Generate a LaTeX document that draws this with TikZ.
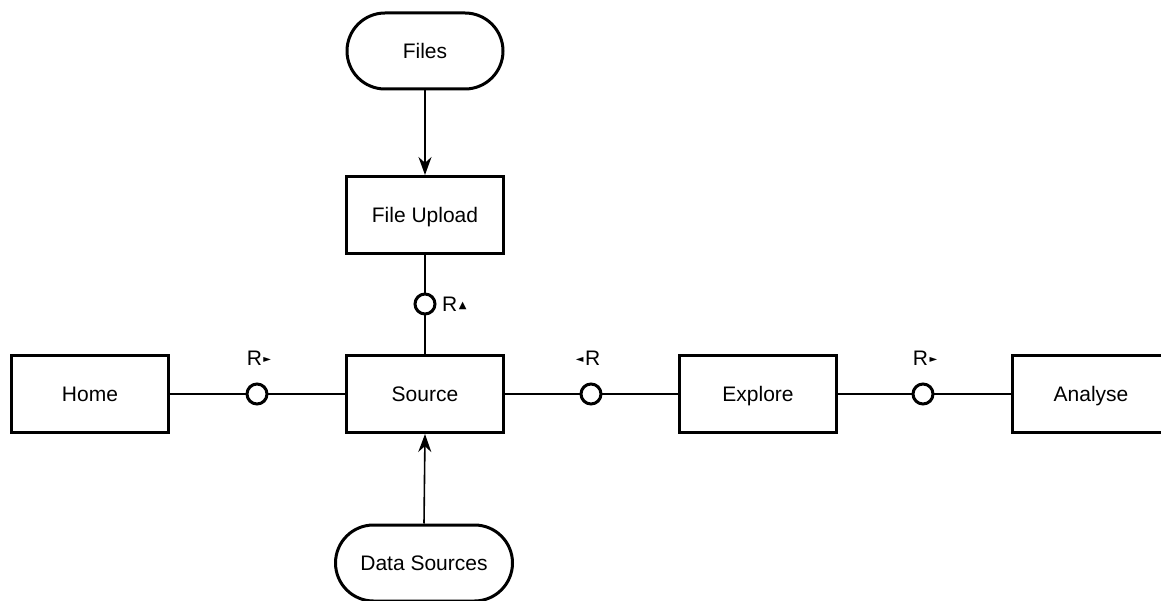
\documentclass[tikz,border=0pt]{standalone}
\usepackage{fontspec}
\setmainfont{Liberation Sans}
\newfontfamily\symfont{DejaVu Sans}
\usetikzlibrary{arrows.meta}
\newcommand{\tri}[1]{{\symfont\fontsize{10}{11}\selectfont\raisebox{2.5pt}{#1}}}
\begin{document}
\begin{tikzpicture}[x=1pt,y=1pt,
  font=\fontsize{21}{25}\selectfont,
  box/.style={draw, line width=3pt, minimum width=157pt, minimum height=77pt, inner sep=0pt,
    text height=15pt, text depth=0pt, fill=white},
  term/.style={draw, line width=3pt, minimum height=76pt, inner sep=0pt, rounded corners=38pt,
    text height=15pt, text depth=0pt, fill=white},
  link/.style={line width=1.6pt},
  flow/.style={line width=1.6pt, -{Stealth[length=18pt,width=13pt]}},
  port/.style={circle, draw, line width=3pt, minimum size=20pt, inner sep=0pt, fill=white},
  tag/.style={inner sep=1pt}]
\useasboundingbox (0,0) rectangle (1161,600);
\clip (0,0) rectangle (1161,600);

% boxes
\node[term, minimum width=156pt] (files) at (425,549) {Files};
\node[box] (upload) at (425,385) {File Upload};
\node[box] (source) at (425,206) {Source};
\node[box] (home) at (90,206) {Home};
\node[box] (explore) at (758,206) {Explore};
\node[box] (analyse) at (1091,206) {Analyse};
\node[term, minimum width=177pt] (datasrc) at (424,37) {Data Sources};

% ports on the links
\coordinate (p1) at (425,296);
\coordinate (p2) at (257,206);
\coordinate (p3) at (591,206);
\coordinate (p4) at (923,206);

\draw[link] (upload.south) -- (source.north);
\draw[link] (home.east) -- (source.west);
\draw[link] (source.east) -- (explore.west);
\draw[link] (explore.east) -- (analyse.west);

\node[port] (c1) at (p1) {};
\node[port] (c2) at (p2) {};
\node[port] (c3) at (p3) {};
\node[port] (c4) at (p4) {};

\node[tag, anchor=west] (t1) at (441,296) {R\kern1.5pt\tri{▲}};
\node[tag] (t2) at (259,242) {R\kern1.5pt\tri{►}};
\node[tag] (t3) at (588,242) {\tri{◄}\kern1.5pt R};
\node[tag] (t4) at (925,242) {R\kern1.5pt\tri{►}};

% data flows
\draw[flow] (files.south) -- (upload.north);
\draw[flow] (datasrc.north) -- (source.south);
\end{tikzpicture}
\end{document}
